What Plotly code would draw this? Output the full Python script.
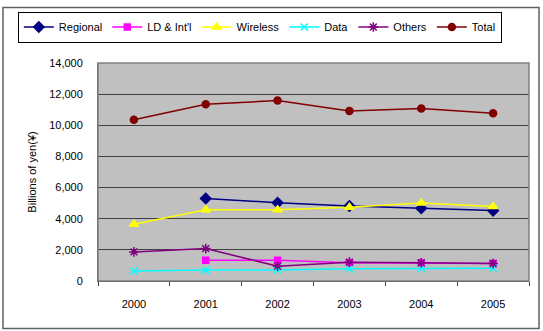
import plotly.graph_objects as go

years = ["2000", "2001", "2002", "2003", "2004", "2005"]
regional = [None, 5300, 5030, 4815, 4670, 4520]
ld_intl = [None, 1340, 1330, 1170, 1150, 1130]
wireless = [3650, 4580, 4570, 4730, 5010, 4790]
data = [640, 700, 710, 790, 800, 820]
others = [1870, 2080, 955, 1210, 1170, 1125]
total = [10350, 11350, 11585, 10925, 11075, 10775]

series = [
    ("Regional", regional, "#000080", "diamond", 8),
    ("LD & Int'l", ld_intl, "#FF00FF", "square", 6),
    ("Wireless", wireless, "#FFFF00", "triangle-up", 8),
    ("Data", data, "#00FFFF", "x-thin-open", 7),
    ("Others", others, "#800080", "asterisk-open", 8),
    ("Total", total, "#800000", "circle", 7),
]

fig = go.Figure()
for name, vals, color, sym, size in series:
    fig.add_trace(go.Scatter(
        x=years, y=vals, name=name, mode="lines+markers",
        line=dict(color=color, width=1.5),
        marker=dict(symbol=sym, size=size, color=color,
                    line=dict(color=color, width=1.5)),
        connectgaps=False,
    ))

fig.update_layout(
    width=543, height=331,
    margin=dict(l=98, r=14, t=61, b=50),
    paper_bgcolor="white",
    plot_bgcolor="#C0C0C0",
    font=dict(family="Liberation Sans, Arial", size=11, color="black"),
    showlegend=True,
    legend=dict(
        orientation="h", x=-0.186, xanchor="left", y=1.236, yanchor="top",
        bordercolor="black", borderwidth=1, bgcolor="white",
        font=dict(size=11), itemwidth=30, tracegroupgap=0,
    ),
    xaxis=dict(
        type="category", showgrid=False, showline=True, linecolor="#404040",
        linewidth=1, ticks="outside", ticklen=4, tickcolor="#404040",
        tickson="boundaries", mirror=False, ticklabelstandoff=13,
        range=[-0.5, 5.5],
    ),
    yaxis=dict(
        range=[0, 14000], dtick=2000, tickformat=",d",
        showgrid=True, gridcolor="#404040", gridwidth=1,
        showline=True, linecolor="#404040", linewidth=1,
        zeroline=False, ticks="", ticklabelstandoff=12,
        title=dict(text="Billions of yen(¥)", standoff=10, font=dict(size=11)),
    ),
    shapes=[
        dict(type="rect", xref="paper", yref="paper",
             x0=0, x1=1, y0=0, y1=1, line=dict(color="#808080", width=1.5),
             fillcolor="rgba(0,0,0,0)", layer="above"),
        dict(type="rect", xref="paper", yref="paper",
             x0=-0.2204, x1=1.0232, y0=-0.218, y1=1.2545,
             line=dict(color="#606060", width=1.5),
             fillcolor="rgba(0,0,0,0)"),
    ],
)

fig.write_html("out.html")
